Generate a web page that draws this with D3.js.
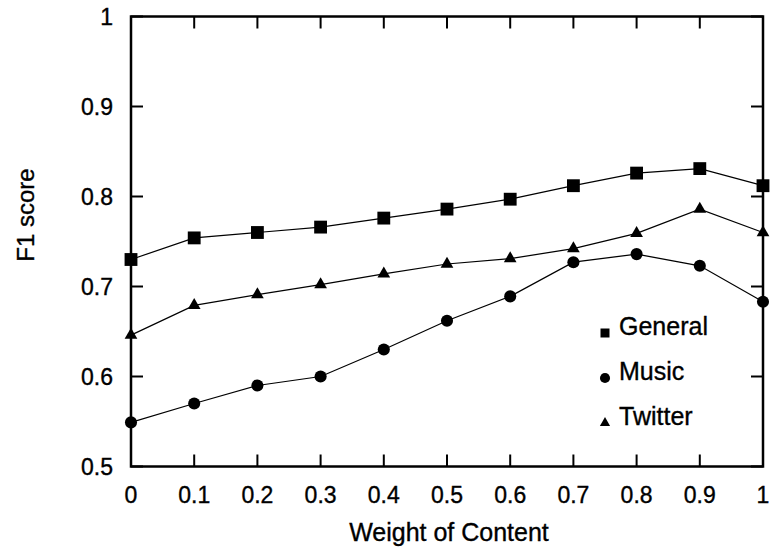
<!DOCTYPE html>
<html>
<head>
<meta charset="utf-8">
<script src="https://cdn.jsdelivr.net/npm/d3@7"></script>
<style>
  body { margin: 0; background: #fff; }
  text { font-family: "Liberation Sans", Arial, sans-serif; fill: #000; stroke: #000; stroke-width: 0.35px; }
</style>
</head>
<body>
<div id="chart"></div>
<script>
const weights = [0, 0.1, 0.2, 0.3, 0.4, 0.5, 0.6, 0.7, 0.8, 0.9, 1];
const general = [0.730, 0.754, 0.760, 0.766, 0.776, 0.786, 0.797, 0.812, 0.826, 0.831, 0.812];
const music   = [0.549, 0.570, 0.590, 0.600, 0.630, 0.662, 0.689, 0.727, 0.736, 0.723, 0.683];
const twitter = [0.646, 0.679, 0.691, 0.702, 0.714, 0.725, 0.731, 0.742, 0.759, 0.786, 0.760];
const xTicks = [0, 0.1, 0.2, 0.3, 0.4, 0.5, 0.6, 0.7, 0.8, 0.9, 1];
const yTicks = [0.5, 0.6, 0.7, 0.8, 0.9, 1];
const seriesNames = ["General", "Music", "Twitter"];

const W = 773, H = 550;
const margin = {top: 16.5, right: 10, bottom: 83.5, left: 131};
const width = W - margin.left - margin.right;
const height = H - margin.top - margin.bottom;

const svg = d3.select("#chart")
  .append("svg")
    .attr("width", W)
    .attr("height", H)
  .append("g")
    .attr("transform", "translate(" + margin.left + "," + margin.top + ")");

const x = d3.scaleLinear().domain([0, 1]).range([0, width]);
const y = d3.scaleLinear().domain([0.5, 1]).range([height, 0]);

const fmt = d => d === 0 || d === 1 ? String(d) : d.toFixed(1);

// ticks (inward, mirrored on top and right)
const tickLen = 12;
xTicks.forEach(t => {
  svg.append("line").attr("x1", x(t)).attr("x2", x(t)).attr("y1", height).attr("y2", height - tickLen)
    .attr("stroke", "#000").attr("stroke-width", 2);
  svg.append("line").attr("x1", x(t)).attr("x2", x(t)).attr("y1", 0).attr("y2", tickLen)
    .attr("stroke", "#000").attr("stroke-width", 2);
  svg.append("text")
    .attr("x", x(t)).attr("y", height + 36)
    .attr("text-anchor", "middle")
    .style("font-size", "23px")
    .text(fmt(t));
});
yTicks.forEach(t => {
  svg.append("line").attr("x1", 0).attr("x2", tickLen).attr("y1", y(t)).attr("y2", y(t))
    .attr("stroke", "#000").attr("stroke-width", 2);
  svg.append("line").attr("x1", width).attr("x2", width - tickLen).attr("y1", y(t)).attr("y2", y(t))
    .attr("stroke", "#000").attr("stroke-width", 2);
  svg.append("text")
    .attr("x", -18).attr("y", y(t))
    .attr("dy", "0.36em")
    .attr("text-anchor", "end")
    .style("font-size", "23px")
    .text(fmt(t));
});

// frame
svg.append("rect")
  .attr("x", 0).attr("y", 0)
  .attr("width", width).attr("height", height)
  .attr("fill", "none")
  .attr("stroke", "#000")
  .attr("stroke-width", 2.5);

// axis titles
svg.append("text")
  .attr("x", width / 2 + 2).attr("y", height + 74)
  .attr("text-anchor", "middle")
  .style("font-size", "25px")
  .text("Weight of Content");

svg.append("text")
  .attr("transform", "translate(" + (34 - margin.left) + "," + (215 - margin.top) + ") rotate(-90)")
  .attr("text-anchor", "middle")
  .style("font-size", "24px")
  .text("F1 score");

// series
const series = [
  {name: seriesNames[0], values: general, symbol: d3.symbolSquare, size: 165, legSize: 81},
  {name: seriesNames[1], values: music, symbol: d3.symbolCircle, size: 115, legSize: 80},
  {name: seriesNames[2], values: twitter, symbol: d3.symbolTriangle, size: 70, legSize: 45}
];

const line = d3.line()
  .x((d, i) => x(weights[i]))
  .y(d => y(d));

series.forEach(s => {
  svg.append("path")
    .datum(s.values)
    .attr("fill", "none")
    .attr("stroke", "#000")
    .attr("stroke-width", 1.2)
    .attr("d", line);

  svg.selectAll(null)
    .data(s.values)
    .enter()
    .append("path")
      .attr("transform", (d, i) => "translate(" + x(weights[i]) + "," + y(d) + ")")
      .attr("d", d3.symbol().type(s.symbol).size(s.size))
      .attr("fill", "#000");
});

// legend
const legend = svg.append("g").attr("transform", "translate(" + (605 - margin.left) + "," + (-margin.top) + ")");
series.forEach((s, i) => {
  const base = 335 + i * 45;
  legend.append("path")
    .attr("transform", "translate(0," + (base - 2) + ")")
    .attr("d", d3.symbol().type(s.symbol).size(s.legSize))
    .attr("fill", "#000");
  legend.append("text")
    .attr("x", 14).attr("y", base)
    .style("font-size", "25px")
    .text(s.name);
});
</script>
</body>
</html>
